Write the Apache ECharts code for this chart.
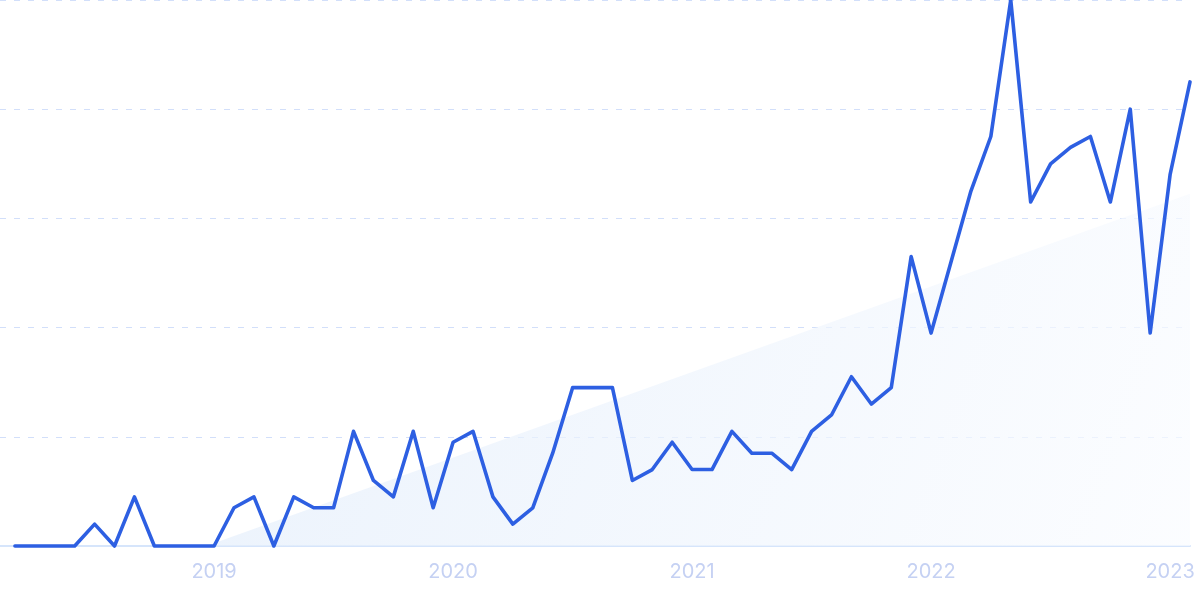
<!DOCTYPE html>
<html>
<head>
<meta charset="utf-8">
<script src="https://cdn.jsdelivr.net/npm/echarts@6/dist/echarts.min.js"></script>
<style>
  html, body { margin: 0; padding: 0; background: #ffffff; }
  #chart { width: 1200px; height: 599px; }
</style>
</head>
<body>
<div id="chart"></div>
<script>
// Monthly categories (2018-03 .. 2023-02)
const months = [
  '2018-03','2018-04','2018-05','2018-06','2018-07','2018-08','2018-09','2018-10','2018-11','2018-12',
  '2019-01','2019-02','2019-03','2019-04','2019-05','2019-06','2019-07','2019-08','2019-09','2019-10','2019-11','2019-12',
  '2020-01','2020-02','2020-03','2020-04','2020-05','2020-06','2020-07','2020-08','2020-09','2020-10','2020-11','2020-12',
  '2021-01','2021-02','2021-03','2021-04','2021-05','2021-06','2021-07','2021-08','2021-09','2021-10','2021-11','2021-12',
  '2022-01','2022-02','2022-03','2022-04','2022-05','2022-06','2022-07','2022-08','2022-09','2022-10','2022-11','2022-12',
  '2023-01','2023-02'
];
// Search interest values (relative, 0-100)
const values = [
  0, 0, 0, 0, 4, 0, 9, 0, 0, 0,
  0, 7, 9, 0, 9, 7, 7, 21, 12, 9, 21, 7,
  19, 21, 9, 4, 7, 17, 29, 29, 29, 12, 14, 19,
  14, 14, 21, 17, 17, 14, 21, 24, 31, 26, 29, 53,
  39, 52, 65, 75, 100, 63, 70, 73, 75, 63, 80, 39,
  68, 85
];
// Trend line end points: [month index, value]
const trendPoints = [[9.6, 0], [59, 64.5]];
// Year tick labels and the month they sit on
const yearLabels = ['2019', '2020', '2021', '2022', '2023'];
const yearMonths = ['2019-01', '2020-01', '2021-01', '2022-01', '2023-01'];

const yearIdx = yearMonths.map(m => months.indexOf(m));
const lineData = values.map((v, i) => [i, v]);

const chart = echarts.init(document.getElementById('chart'), null, { renderer: 'canvas' });
chart.setOption({
  animation: false,
  backgroundColor: '#ffffff',
  grid: { left: 0, right: 10, top: 0, bottom: 53, containLabel: false },
  xAxis: {
    type: 'value',
    min: -0.75,
    max: months.length - 1,
    splitLine: { show: false },
    axisTick: { show: false },
    axisLine: { show: true, lineStyle: { color: '#d6e5fb', width: 2 } },
    axisLabel: {
      customValues: yearIdx,
      formatter: function (v) {
        const k = yearIdx.indexOf(Math.round(v));
        return k >= 0 ? yearLabels[k] : '';
      },
      color: '#c5d1f3',
      fontFamily: 'Inter',
      fontSize: 20,
      margin: 16
    }
  },
  yAxis: {
    type: 'value',
    min: 0,
    max: 100,
    interval: 20,
    axisLabel: { show: false },
    axisLine: { show: false },
    axisTick: { show: false },
    splitLine: { show: true, lineStyle: { color: '#d2dffa', type: [6, 8], width: 1 } }
  },
  series: [
    {
      type: 'line',
      data: trendPoints,
      symbol: 'none',
      silent: true,
      lineStyle: { width: 0, opacity: 0 },
      areaStyle: {
        color: new echarts.graphic.LinearGradient(0, 0, 1, 1, [
          { offset: 0, color: '#e2edfb' },
          { offset: 1, color: '#fafcff' }
        ])
      },
      z: 1
    },
    {
      type: 'line',
      data: lineData,
      symbol: 'none',
      clip: false,
      lineStyle: { color: '#2d5fe2', width: 3.6, join: 'round', cap: 'round' },
      z: 3
    }
  ]
});
</script>
</body>
</html>
